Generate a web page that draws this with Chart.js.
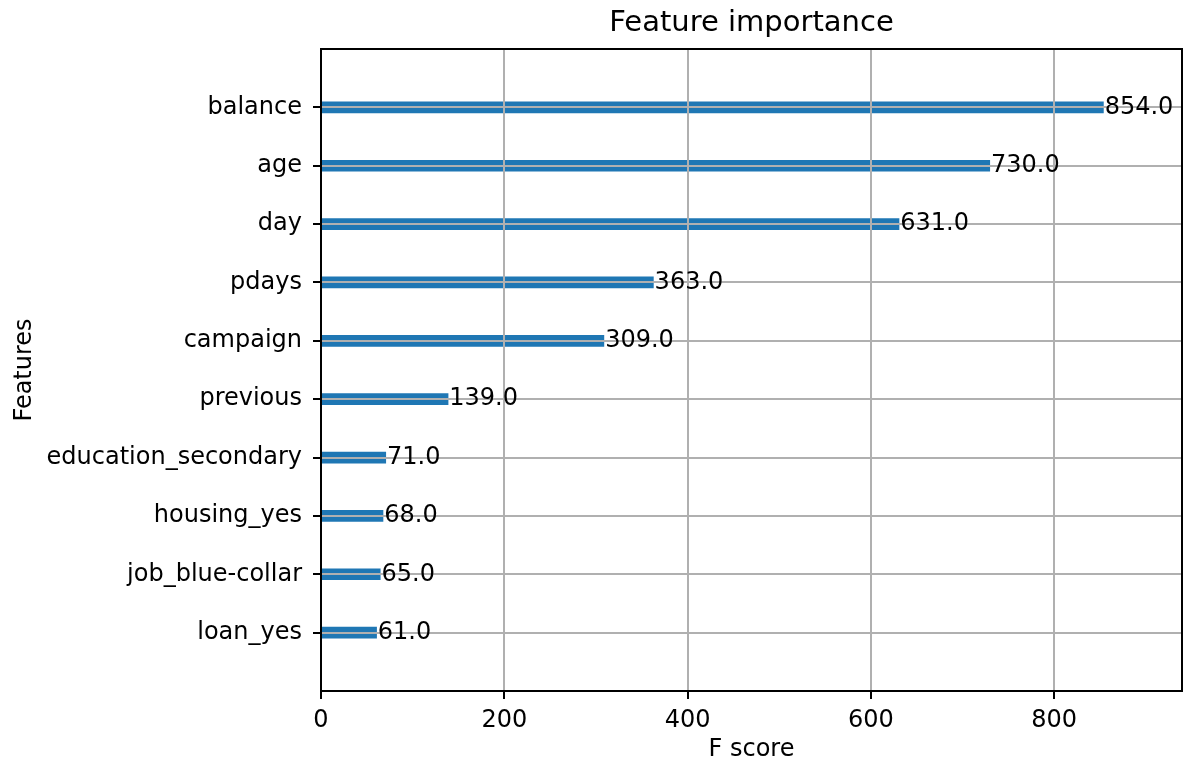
<!DOCTYPE html>
<html>
<head>
<meta charset="utf-8">
<script src="https://cdn.jsdelivr.net/npm/chart.js@4.4.1/dist/chart.umd.min.js"></script>
<style>
  html, body { margin: 0; padding: 0; background: #ffffff; }
  #wrap { width: 1184px; height: 764px; }
</style>
</head>
<body>
<div id="wrap"><canvas id="chart" width="1184" height="764"></canvas></div>
<script>
// Features ordered bottom to top, with their F scores
const features = ['loan_yes', 'job_blue-collar', 'housing_yes', 'education_secondary', 'previous', 'campaign', 'pdays', 'day', 'age', 'balance'];
const fScores = [61, 65, 68, 71, 139, 309, 363, 631, 730, 854];
const xTickValues = [0, 200, 400, 600, 800];

const FONT = 'DejaVu Sans';
const TICK_SIZE = 24;
const xMax = Math.max(...fScores) * 1.1;

// Four-sided frame around the plotting area
const frame = {
  id: 'frame',
  afterDraw(chart) {
    const { ctx, chartArea: a } = chart;
    ctx.save();
    ctx.strokeStyle = '#000';
    ctx.lineWidth = 2;
    ctx.strokeRect(a.left, a.top, a.right - a.left, a.bottom - a.top);
    ctx.restore();
  }
};

// Score printed just past the end of each bar
const valueLabels = {
  id: 'valueLabels',
  afterDraw(chart) {
    const { ctx, scales: { x, y } } = chart;
    ctx.save();
    ctx.font = `${TICK_SIZE}px "${FONT}"`;
    ctx.fillStyle = '#000';
    ctx.textAlign = 'left';
    ctx.textBaseline = 'middle';
    fScores.forEach((v, i) => {
      ctx.fillText(v.toFixed(1), x.getPixelForValue(v + 1), y.getPixelForValue(i));
    });
    ctx.restore();
  }
};

new Chart(document.getElementById('chart'), {
  type: 'bar',
  data: {
    datasets: [{
      data: fScores.map((v, i) => ({ x: v, y: i })),
      backgroundColor: '#1f77b4',
      borderWidth: 0,
      categoryPercentage: 1,
      barPercentage: 0.2
    }]
  },
  options: {
    indexAxis: 'y',
    responsive: false,
    animation: false,
    devicePixelRatio: 1,
    layout: { padding: { left: 0, right: 2, top: 0, bottom: 0 } },
    plugins: {
      legend: { display: false },
      tooltip: { enabled: false },
      title: {
        display: true,
        fullSize: false,
        align: 'center',
        text: 'Feature importance',
        color: '#000',
        font: { family: FONT, size: 29, weight: 'normal', lineHeight: 1.2 },
        padding: { top: 6.5, bottom: 7.7 }
      }
    },
    scales: {
      x: {
        type: 'linear',
        min: 0,
        max: xMax,
        offset: false,
        afterBuildTicks: s => { s.ticks = xTickValues.map(v => ({ value: v })); },
        afterFit: s => { s.height = 73; },
        grid: { display: true, offset: false, color: '#b0b0b0', lineWidth: 2, z: 1, tickLength: 8, tickColor: '#000', tickWidth: 2 },
        border: { display: false },
        ticks: { color: '#000', font: { family: FONT, size: TICK_SIZE }, padding: 7, maxRotation: 0, autoSkip: false },
        title: {
          display: true,
          text: 'F score',
          color: '#000',
          font: { family: FONT, size: TICK_SIZE, lineHeight: 1.2 },
          padding: { top: 0, bottom: 0 }
        }
      },
      y: {
        type: 'linear',
        min: -1,
        max: features.length,
        offset: false,
        afterBuildTicks: s => { s.ticks = features.map((_, i) => ({ value: i })); },
        afterFit: s => { s.width = 321; },
        grid: { display: true, offset: false, color: '#b0b0b0', lineWidth: 2, z: 1, tickLength: 8, tickColor: '#000', tickWidth: 2 },
        border: { display: false },
        ticks: {
          color: '#000',
          font: { family: FONT, size: TICK_SIZE },
          padding: 11,
          autoSkip: false,
          callback: v => features[v]
        },
        title: {
          display: true,
          text: 'Features',
          color: '#000',
          font: { family: FONT, size: TICK_SIZE, lineHeight: 1.2 },
          padding: { top: 10, bottom: 0 }
        }
      }
    }
  },
  plugins: [frame, valueLabels]
});
</script>
</body>
</html>
